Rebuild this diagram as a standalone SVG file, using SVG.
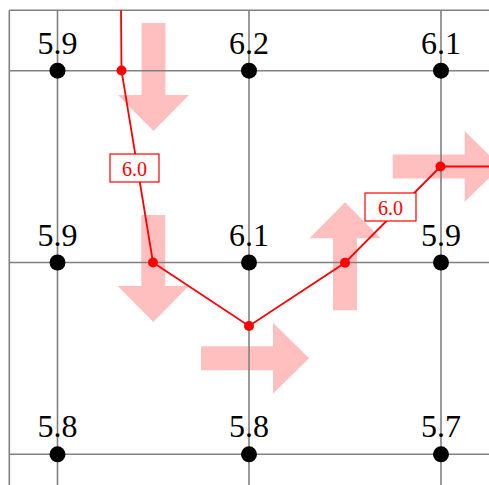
<svg xmlns="http://www.w3.org/2000/svg" width="489" height="485" viewBox="0 0 489 485">
<style>
.arrow{fill:#ffbfbf;stroke:none}
.grid{stroke:#808080;stroke-width:1.6;fill:none}
.node{fill:#000}
.lbl{font-family:"Liberation Serif","Times New Roman",serif;font-size:32px;fill:#000;text-anchor:middle}
.path{stroke:#ff0000;stroke-width:1.8;fill:none}
.pt{fill:#ff0000}
.box{fill:#fff;stroke:#ff0000;stroke-width:1.2}
.clbl{font-family:"Liberation Serif","Times New Roman",serif;font-size:20px;fill:#ff0000;text-anchor:middle}
</style>
<rect width="489" height="485" fill="#fff"/>
<g id="arrows">
<polygon class="arrow" points="141.5,23 165.5,23 165.5,95 189,95 153.5,131 118,95 141.5,95"/>
<polygon class="arrow" points="141.3,215 165.3,215 165.3,286 188.8,286 153.3,322 117.8,286 141.3,286"/>
<polygon class="arrow" points="201,346.3 273,346.3 273,322.8 309,358.3 273,393.8 273,370.3 201,370.3"/>
<polygon class="arrow" points="333,310.3 357,310.3 357,238.3 380.5,238.3 345,202.3 309.5,238.3 333,238.3"/>
<polygon class="arrow" points="392.7,154.5 464.7,154.5 464.7,131 500.7,166.5 464.7,202 464.7,178.5 392.7,178.5"/>
</g>
<g id="grid" class="grid">
<line x1="9.3" y1="10.3" x2="9.3" y2="485"/>
<line x1="9.3" y1="10.3" x2="489" y2="10.3"/>
<line x1="57.5" y1="10.3" x2="57.5" y2="485"/>
<line x1="249" y1="10.3" x2="249" y2="485"/>
<line x1="441" y1="10.3" x2="441" y2="485"/>
<line x1="9.3" y1="70.7" x2="489" y2="70.7"/>
<line x1="9.3" y1="262.5" x2="489" y2="262.5"/>
<line x1="9.3" y1="454.3" x2="489" y2="454.3"/>
</g>
<g id="connectors">
<polyline class="path" points="121,10.3 121.5,70.5 153,262.5 249,326 345,262.7 440.5,166.5 489,166.5"/>
<circle class="pt" cx="121.5" cy="70.5" r="5"/>
<circle class="pt" cx="153" cy="262.5" r="5"/>
<circle class="pt" cx="249" cy="326" r="5"/>
<circle class="pt" cx="345" cy="262.7" r="5"/>
<circle class="pt" cx="440.5" cy="166.5" r="5"/>
<g id="contour-label-1"><rect class="box" x="110" y="154" width="49" height="28"/><text class="clbl" x="134.5" y="175.5">6.0</text></g>
<g id="contour-label-2"><rect class="box" x="365" y="193" width="51" height="28"/><text class="clbl" x="390.5" y="214.5">6.0</text></g>
</g>
<g id="n00"><circle class="node" cx="57.5" cy="70.7" r="8"/><text class="lbl" x="57.5" y="54">5.9</text></g>
<g id="n10"><circle class="node" cx="249" cy="70.7" r="8"/><text class="lbl" x="249" y="54">6.2</text></g>
<g id="n20"><circle class="node" cx="441" cy="70.7" r="8"/><text class="lbl" x="441" y="54">6.1</text></g>
<g id="n01"><circle class="node" cx="57.5" cy="262.5" r="8"/><text class="lbl" x="57.5" y="245.5">5.9</text></g>
<g id="n11"><circle class="node" cx="249" cy="262.5" r="8"/><text class="lbl" x="249" y="245.5">6.1</text></g>
<g id="n21"><circle class="node" cx="441" cy="262.5" r="8"/><text class="lbl" x="441" y="245.5">5.9</text></g>
<g id="n02"><circle class="node" cx="57.5" cy="454.3" r="8"/><text class="lbl" x="57.5" y="437">5.8</text></g>
<g id="n12"><circle class="node" cx="249" cy="454.3" r="8"/><text class="lbl" x="249" y="437">5.8</text></g>
<g id="n22"><circle class="node" cx="441" cy="454.3" r="8"/><text class="lbl" x="441" y="437">5.7</text></g>
</svg>
